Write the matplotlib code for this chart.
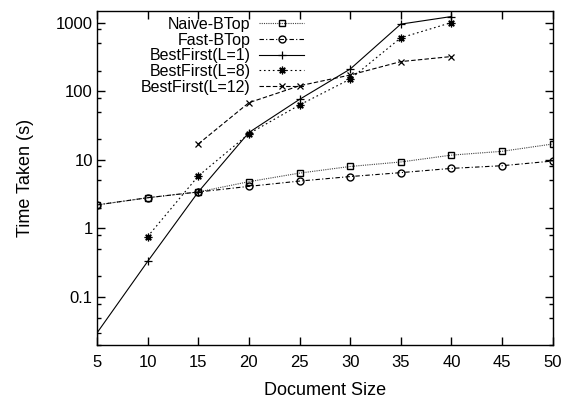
import matplotlib
matplotlib.use('Agg')
import matplotlib.pyplot as plt
from matplotlib.ticker import FixedLocator, LogLocator, NullFormatter, FuncFormatter

# Data
doc_size = [5, 10, 15, 20, 25, 30, 35, 40, 45, 50]
naive_btop = [2.2, 2.8, 3.4, 4.8, 6.4, 8.0, 9.3, 11.7, 13.3, 17.0]
fast_btop = [2.2, 2.8, 3.4, 4.1, 4.9, 5.7, 6.5, 7.5, 8.2, 9.6]

l1_size = [5, 10, 15, 20, 25, 30, 35, 40]
l1_time = [0.03, 0.33, 3.4, 25, 76, 210, 950, 1225]

l8_size = [10, 15, 20, 25, 30, 35, 40]
l8_time = [0.76, 5.8, 24, 63, 150, 600, 1000]

l12_size = [15, 20, 25, 30, 35, 40]
l12_time = [17, 68, 120, 172, 270, 320]

x_ticks = [5, 10, 15, 20, 25, 30, 35, 40, 45, 50]
y_ticks = [0.1, 1, 10, 100, 1000]

plt.rcParams['font.family'] = ['Liberation Sans', 'DejaVu Sans']
plt.rcParams['font.size'] = 12

fig = plt.figure(figsize=(5.72, 3.98), dpi=100)
ax = fig.add_axes([97 / 572, 1 - 345 / 398, 455.7 / 572, 334.5 / 398])

lw = 0.8
ax.plot(doc_size, naive_btop, color='#444444', lw=lw, ls=(0, (1, 1)),
        marker='s', ms=5, mfc='none', mec='black', mew=1.0, label='Naive-BTop')
ax.plot(doc_size, fast_btop, color='black', lw=lw, ls=(0, (4, 2, 1, 2)),
        marker='o', ms=5, mfc='none', mec='black', mew=1.0, label='Fast-BTop')
ax.plot(l1_size, l1_time, color='black', lw=lw, ls='-',
        marker='+', ms=6, mew=0.9, label='BestFirst(L=1)')
ax.plot(l8_size, l8_time, color='black', lw=lw, ls=(0, (1.5, 2.5)),
        marker=(8, 2, 0), ms=5.5, mew=0.9, label='BestFirst(L=8)')
ax.plot(l12_size, l12_time, color='black', lw=lw, ls=(0, (4, 2)),
        marker='x', ms=5, mew=0.9, label='BestFirst(L=12)')

ax.set_yscale('log')
ax.set_xlim(5, 50)
ax.set_ylim(0.02, 1500)
ax.xaxis.set_major_locator(FixedLocator(x_ticks))
ax.yaxis.set_major_locator(FixedLocator(y_ticks))
ax.yaxis.set_major_formatter(FuncFormatter(lambda v, p: '%g' % v))
ax.yaxis.set_minor_locator(LogLocator(base=10, subs=(2, 5, 8)))
ax.yaxis.set_minor_formatter(NullFormatter())

ax.tick_params(which='both', direction='in', top=True, right=True, width=1.0)
ax.tick_params(which='major', length=5.5)
ax.tick_params(axis='x', which='major', pad=7)
ax.tick_params(axis='y', which='major', pad=3)
ax.tick_params(which='minor', length=3)
for s in ax.spines.values():
    s.set_linewidth(1.0)

ax.set_xlabel('Document Size', fontsize=13, labelpad=9)
ax.set_ylabel('Time Taken (s)', fontsize=13, labelpad=16)

leg = ax.legend(loc='upper right', bbox_to_anchor=(304 / 572, 1 - 17 / 398),
                bbox_transform=fig.transFigure, frameon=False, markerfirst=False,
                handlelength=2.8, handletextpad=0.55, labelspacing=0.04,
                borderpad=0, borderaxespad=0, numpoints=1, fontsize=11.5)

fig.savefig('out.png', dpi=100)
